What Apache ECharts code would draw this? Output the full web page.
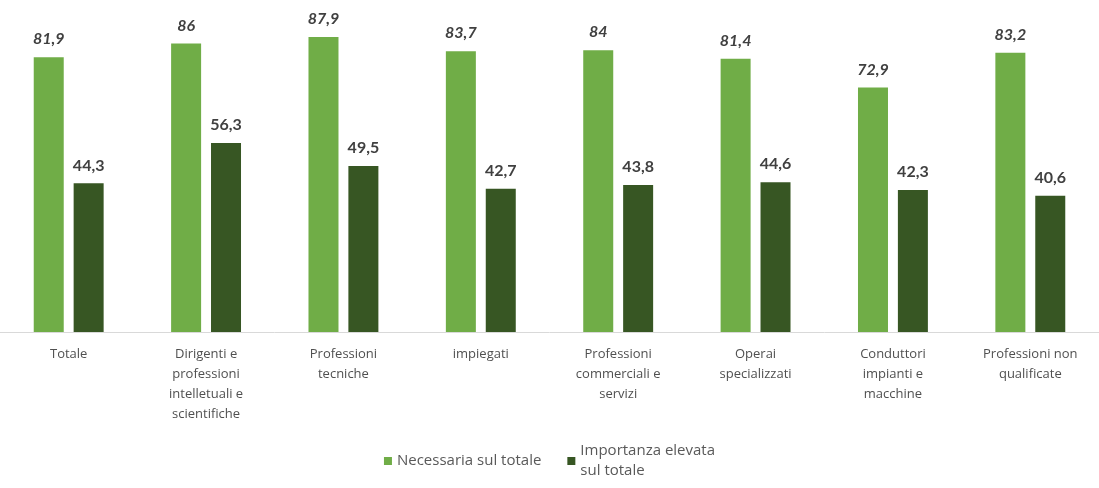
<!DOCTYPE html>
<html>
<head>
<meta charset="utf-8">
<script src="https://cdn.jsdelivr.net/npm/echarts@6/dist/echarts.min.js"></script>
<style>
  html, body { margin: 0; padding: 0; background: #fff; }
  #chart { width: 1099px; height: 488px; }
</style>
</head>
<body>
<div id="chart"></div>
<script>
const categories = [
  'Totale',
  'Dirigenti e\nprofessioni\nintelletuali e\nscientifiche',
  'Professioni\ntecniche',
  'impiegati',
  'Professioni\ncommerciali e\nservizi',
  'Operai\nspecializzati',
  'Conduttori\nimpianti e\nmacchine',
  'Professioni non\nqualificate'
]
const seriesNames = ['Necessaria sul totale', 'Importanza elevata\nsul totale']
const necessaria = [81.9, 86, 87.9, 83.7, 84, 81.4, 72.9, 83.2]
const importanza = [44.3, 56.3, 49.5, 42.7, 43.8, 44.6, 42.3, 40.6]

const font = '"Open Sans", Lato, sans-serif'
const valueFont = 'Lato, "Noto Sans", sans-serif'
const fmt = p => String(p.value).replace('.', ',')

const chart = echarts.init(document.getElementById('chart'))
chart.setOption({
  animation: false,
  textStyle: { fontFamily: font },
  grid: { left: 0, right: 0, top: 30, bottom: 156, containLabel: false },
  legend: {
    bottom: 2,
    left: 'center',
    itemWidth: 8,
    itemHeight: 8,
    itemGap: 26,
    icon: 'rect',
    textStyle: { fontFamily: font, fontSize: 15, color: '#595959', lineHeight: 20 },
    data: seriesNames
  },
  xAxis: {
    type: 'category',
    data: categories,
    axisLine: { lineStyle: { color: '#d9d9d9', width: 1 } },
    axisTick: { show: false },
    axisLabel: {
      interval: 0,
      margin: 12,
      color: '#505050',
      fontSize: 13,
      lineHeight: 20,
      fontFamily: font
    }
  },
  yAxis: {
    type: 'value',
    min: 0,
    max: 90,
    show: false,
    splitLine: { show: false }
  },
  series: [
    {
      name: seriesNames[0],
      type: 'bar',
      data: necessaria,
      barWidth: 30,
      barGap: '33%',
      itemStyle: { color: '#70ad47' },
      label: {
        show: true,
        position: 'top',
        distance: 10,
        formatter: fmt,
        fontStyle: 'italic',
        fontWeight: 'bold',
        fontSize: 16,
        color: '#404040',
        fontFamily: valueFont
      }
    },
    {
      name: seriesNames[1],
      type: 'bar',
      data: importanza,
      barWidth: 30,
      itemStyle: { color: '#375623' },
      label: {
        show: true,
        position: 'top',
        distance: 10,
        formatter: fmt,
        fontWeight: 'bold',
        fontSize: 16,
        color: '#404040',
        fontFamily: valueFont
      }
    }
  ]
})
</script>
</body>
</html>
